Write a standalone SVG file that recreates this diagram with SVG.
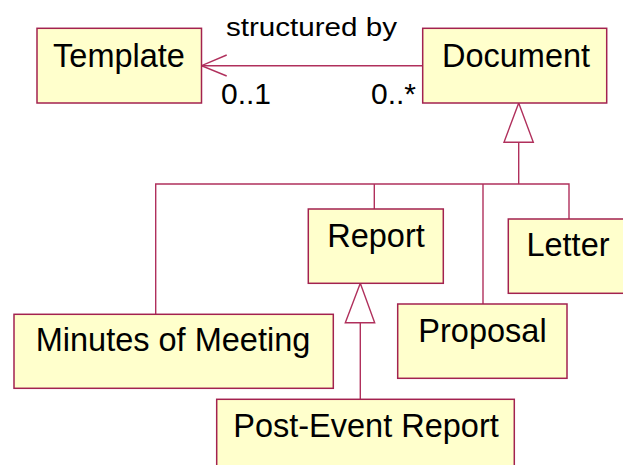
<svg xmlns="http://www.w3.org/2000/svg" width="623" height="465" viewBox="0 0 623 465">
  <style>
    .box { fill: #FFFFCC; stroke: #A3224F; stroke-width: 1.5; }
    .name { font-family: "Liberation Sans", Arial, sans-serif; font-size: 32.5px; fill: #000; text-anchor: middle; }
    .label { font-family: "Liberation Sans", Arial, sans-serif; fill: #000; }
    .line { fill: none; stroke: #B0305C; stroke-width: 1.4; }
    .tri { fill: #FFFFFF; stroke: #B0305C; stroke-width: 1.4; stroke-linejoin: miter; }
  </style>
  <rect width="623" height="465" fill="#FFFFFF"/>

  <!-- connectors -->
  <g id="connectors">
    <!-- association Document -> Template -->
    <line class="line" x1="422.7" y1="65.7" x2="201.5" y2="65.7"/>
    <polyline class="line" points="226.7,55 201.5,65.7 226.7,76"/>
    <text class="label" x="226" y="35.7" font-size="25" textLength="171" lengthAdjust="spacingAndGlyphs">structured by</text>
    <text class="label" x="221" y="104" font-size="30">0..1</text>
    <text class="label" x="371" y="104" font-size="30">0..*</text>

    <!-- generalization to Document -->
    <polyline class="line" points="155.7,314.3 155.7,184 569,184 569,219"/>
    <line class="line" x1="374.3" y1="184" x2="374.3" y2="209"/>
    <line class="line" x1="483" y1="184" x2="483" y2="304"/>
    <line class="line" x1="518.7" y1="142.3" x2="518.7" y2="184"/>
    <polygon class="tri" points="518.7,103 504,142.3 533.3,142.3"/>

    <!-- generalization to Report -->
    <line class="line" x1="360.3" y1="322.7" x2="360.3" y2="399.3"/>
    <polygon class="tri" points="360.3,283.3 345.3,322.7 374.7,322.7"/>
  </g>

  <g id="template">
    <rect class="box" x="37" y="28.3" width="164.5" height="74.7"/>
    <text class="name" x="119" y="66.7">Template</text>
  </g>
  <g id="document">
    <rect class="box" x="422.7" y="28.3" width="184" height="74.7"/>
    <text class="name" x="516" y="66.7">Document</text>
  </g>
  <g id="report">
    <rect class="box" x="308.3" y="209" width="135" height="74.3"/>
    <text class="name" x="376" y="247.3">Report</text>
  </g>
  <g id="letter">
    <rect class="box" x="508.3" y="219" width="120" height="74.3"/>
    <text class="name" x="568" y="256">Letter</text>
  </g>
  <g id="minutes">
    <rect class="box" x="14" y="314.3" width="319.3" height="74"/>
    <text class="name" x="173" y="351">Minutes of Meeting</text>
  </g>
  <g id="proposal">
    <rect class="box" x="397.7" y="304" width="169.3" height="74.3"/>
    <text class="name" x="482.5" y="341.7">Proposal</text>
  </g>
  <g id="post-event-report">
    <rect class="box" x="216.7" y="399.3" width="297.6" height="74"/>
    <text class="name" x="366" y="436.5">Post-Event Report</text>
  </g>
</svg>
